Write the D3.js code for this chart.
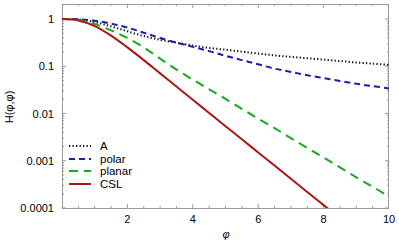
<!DOCTYPE html>
<html><head><meta charset="utf-8">
<script src="https://cdn.jsdelivr.net/npm/d3@7"></script>
<style>body{margin:0;background:#fff}svg{display:block}text{font-family:"Liberation Sans",Arial,sans-serif;fill:#000}</style>
</head><body><svg id="c" width="399" height="247"></svg>
<script>
const phi = [0,0.5,1,1.5,2,2.5,3,3.5,4,4.5,5,5.5,6,6.5,7,7.5,8,8.5,9,9.5,10];
const seriesA = [1,0.985,0.865,0.700,0.550,0.437,0.363,0.316,0.275,0.245,0.224,0.204,0.186,0.170,0.158,0.148,0.138,0.129,0.120,0.1135,0.107];
const seriesPolar = [1,0.992,0.920,0.800,0.661,0.513,0.398,0.316,0.257,0.209,0.166,0.135,0.110,0.0891,0.0759,0.0646,0.0562,0.0490,0.0427,0.0380,0.0339];
const seriesPlanar = [1,0.965,0.785,0.575,0.398,0.251,0.145,0.0851,0.0525,0.0324,0.0204,0.0126,0.00776,0.00490,0.00302,0.00186,0.00117,0.000724,0.000447,0.000282,0.000174];
const seriesCSL = [1,0.935,0.710,0.447,0.251,0.135,0.0708,0.0372,0.0195,0.0103,0.00540,0.00285,0.00150,0.000790,0.000415,0.000219,0.000115,0.0000603];
const names = ["A","polar","planar","CSL"];
const xTicks = [2,4,6,8,10];
const yTicks = [1,0.1,0.01,0.001,0.0001];
const yTickLabels = ["1","0.1","0.01","0.001","0.0001"];

const L=62,R=389,T=4,B=208;
const svg=d3.select("#c");
const x=d3.scaleLinear().domain([0,10]).range([L,R]);
const y=d3.scaleLog().domain([0.0001,2.08]).range([B,T]);

const styles=[
 {c:"#111",w:2,d:"1.3,2.2"},
 {c:"#1c1cb0",w:2,d:"6,4"},
 {c:"#18a818",w:2,d:"9,6"},
 {c:"#a81616",w:2,d:null}
];
const data=[seriesA,seriesPolar,seriesPlanar,seriesCSL];

svg.append("clipPath").attr("id","clip").append("rect").attr("x",L).attr("y",T).attr("width",R-L).attr("height",B-T);

const g=svg.append("g").attr("stroke","#999").attr("stroke-width",1);
const minorX=d3.range(0.5,10,0.5);
minorX.forEach(v=>{
  const isMaj = Math.abs(v-Math.round(v))<1e-9 && Math.round(v)%2===0;
  const len = isMaj?4:2;
  g.append("line").attr("x1",x(v)).attr("x2",x(v)).attr("y1",B).attr("y2",B-len);
  g.append("line").attr("x1",x(v)).attr("x2",x(v)).attr("y1",T).attr("y2",T+len);
});
const yMinor=[];
[0.0001,0.001,0.01,0.1,1].forEach(dec=>{for(let k=1;k<10;k++){const v=dec*k;if(v<=2.08)yMinor.push([v,k===1]);}});
yMinor.forEach(([v,maj])=>{
  const len=maj?4:2;
  g.append("line").attr("x1",L).attr("x2",L+len).attr("y1",y(v)).attr("y2",y(v));
  g.append("line").attr("x1",R).attr("x2",R-len).attr("y1",y(v)).attr("y2",y(v));
});
svg.append("rect").attr("x",L+0.5).attr("y",T+0.5).attr("width",R-L-1).attr("height",B-T).attr("fill","none").attr("stroke","#999");

const line=d3.line().x((d,i)=>x(phi[i])).y(d=>y(d)).curve(d3.curveCatmullRom.alpha(0.5));
const cg=svg.append("g").attr("clip-path","url(#clip)");
data.forEach((s,i)=>{
  cg.append("path").attr("d",line(s)).attr("fill","none").attr("stroke",styles[i].c)
    .attr("stroke-width",styles[i].w).attr("stroke-dasharray",styles[i].d);
});

xTicks.forEach(v=>svg.append("text").attr("x",x(v)).attr("y",223).attr("text-anchor","middle").attr("font-size",11).text(v));
yTicks.forEach((v,i)=>svg.append("text").attr("x",54).attr("y",y(v)+4).attr("text-anchor","end").attr("font-size",11).text(yTickLabels[i]));

svg.append("text").attr("x",226).attr("y",238).attr("text-anchor","middle").attr("font-size",11).attr("font-style","italic").text("φ");
svg.append("text").attr("transform","translate(13,107) rotate(-90)").attr("text-anchor","middle").attr("font-size",11).text("H(φ,φ)");

const ly=[146,159,171,184];
names.forEach((n,i)=>{
  svg.append("line").attr("x1",69).attr("x2",91).attr("y1",ly[i]).attr("y2",ly[i])
    .attr("stroke",styles[i].c).attr("stroke-width",styles[i].w).attr("stroke-dasharray",styles[i].d);
  svg.append("text").attr("x",100).attr("y",ly[i]+4).attr("font-size",11.5).text(n);
});
</script></body></html>
